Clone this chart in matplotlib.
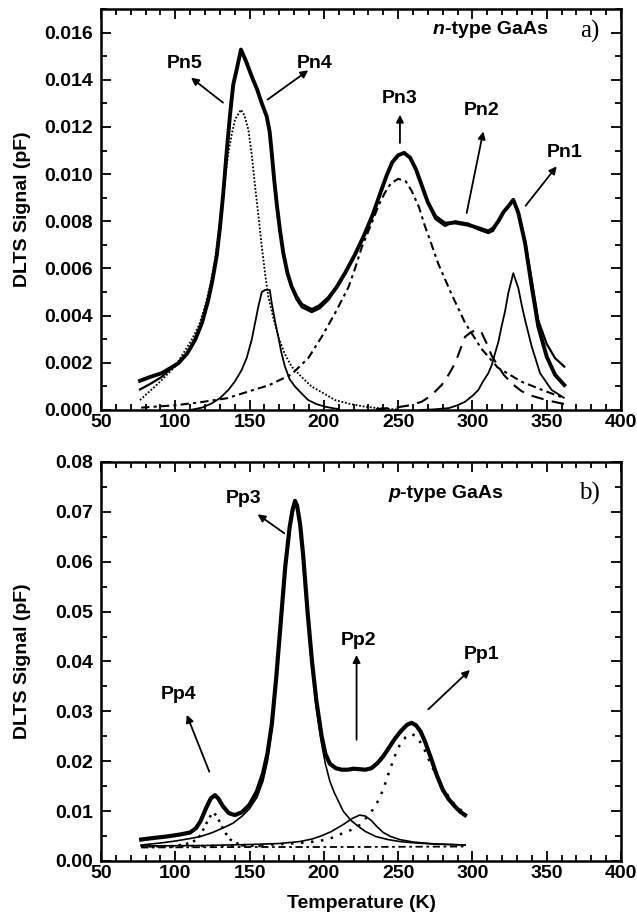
import matplotlib
matplotlib.use("Agg")
import matplotlib.pyplot as plt
from matplotlib.ticker import MultipleLocator, FormatStrFormatter

plt.rcParams['font.family'] = ['Liberation Sans', 'DejaVu Sans']

# ---------------- n-type GaAs (panel a) ----------------
n_data_T = [76.2, 83, 90.8, 96, 102, 108, 113.3, 118, 122.2, 125, 127.9, 130, 132.3, 134.5,
            136.8, 139, 141.3, 144.2, 147.5, 151.4, 155, 158.1, 161.5, 163.5, 164.9, 166.5,
            168.2, 170.5, 172.7, 175.5, 178.3, 181.5, 185, 191.8, 197, 203, 208.5, 214.2,
            221, 227, 233, 238, 242, 246, 250, 254, 258, 262, 266, 270, 275, 281.5, 288.3,
            297.2, 304, 310.7, 314, 317.4, 321, 324.1, 327.5, 330.9, 335.4, 339.9, 344.3,
            350, 355.6, 361.8]
n_data_V = [0.00124, 0.0014, 0.00156, 0.00175, 0.00198, 0.0024, 0.00297, 0.0037, 0.00467,
            0.0055, 0.00655, 0.0077, 0.0092, 0.0109, 0.0125, 0.0138, 0.01443, 0.01528,
            0.0148, 0.01415, 0.0136, 0.01302, 0.01245, 0.0118, 0.0109, 0.0098, 0.00877,
            0.0076, 0.00665, 0.0058, 0.00523, 0.0048, 0.00446, 0.00424, 0.0044, 0.00474,
            0.0052, 0.0058, 0.0066, 0.0074, 0.0083, 0.0092, 0.0099, 0.0105, 0.0108, 0.0109,
            0.0107, 0.0102, 0.0095, 0.0088, 0.0082, 0.0079, 0.00795, 0.00785, 0.00771,
            0.00757, 0.0077, 0.0080, 0.0084, 0.00863, 0.00891, 0.00835, 0.00708, 0.00523,
            0.00354, 0.00226, 0.00149, 0.00106]
n_fit_V = [0.00087, 0.0011, 0.0014, 0.0017, 0.00195, 0.0024, 0.00297, 0.0037, 0.00467,
           0.0055, 0.00655, 0.0077, 0.0092, 0.0109, 0.0125, 0.0138, 0.01443, 0.01525,
           0.0148, 0.01415, 0.0136, 0.01302, 0.01245, 0.0118, 0.0109, 0.0098, 0.00877,
           0.0076, 0.00665, 0.0058, 0.00523, 0.0047, 0.00436, 0.00415, 0.0043, 0.00466,
           0.0052, 0.0058, 0.0066, 0.0074, 0.0083, 0.0092, 0.0099, 0.0105, 0.0108, 0.0109,
           0.0107, 0.0102, 0.0095, 0.0088, 0.0081, 0.0078, 0.0080, 0.0079, 0.00765,
           0.0075, 0.0076, 0.0080, 0.0084, 0.00863, 0.00891, 0.0084, 0.0072, 0.0055,
           0.0038, 0.0028, 0.0022, 0.00184]

pn1_T = [265, 275, 284, 290, 295, 300, 304, 307, 310.7, 313, 315.2, 317.5, 319.6, 322,
         324.1, 327.5, 330.9, 333, 335.4, 339.9, 345.5, 353.3, 361.5]
pn1_V = [0.0, 0.00003, 0.00008, 0.0002, 0.00035, 0.0006, 0.00085, 0.0012, 0.00156, 0.0019,
         0.0024, 0.0029, 0.00354, 0.0042, 0.00495, 0.0058, 0.00516, 0.0045, 0.00382,
         0.00269, 0.00156, 0.00085, 0.00052]

pn2_T = [235, 250, 258, 265.8, 272, 279.3, 284, 288.3, 292, 295, 299, 302.9, 306, 309.5,
         313, 317.4, 321, 326.4, 333, 340, 351, 362]
pn2_V = [0.00003, 0.00012, 0.0002, 0.00035, 0.0006, 0.00106, 0.0015, 0.00198, 0.0026,
         0.0031, 0.0033, 0.0034, 0.0033, 0.00283, 0.0023, 0.00184, 0.0015, 0.00113, 0.0008,
         0.0006, 0.0004, 0.00025]

pn3_T = [77, 100, 117, 135, 150, 163, 178, 189.5, 198.5, 207.5, 216.5, 221, 225.5, 232, 237,
         241, 245, 250, 255, 259, 264, 268, 272, 277, 286, 295, 306, 317, 333, 349, 362]
pn3_V = [0.0001, 0.0002, 0.00033, 0.0005, 0.0008, 0.00105, 0.0015, 0.0022, 0.0031, 0.0041,
         0.0052, 0.0060, 0.0069, 0.0079, 0.0087, 0.0092, 0.0096, 0.0098, 0.0097, 0.0093,
         0.0086, 0.0078, 0.0071, 0.0062, 0.0049, 0.0037, 0.0026, 0.0018, 0.0012, 0.0008,
         0.0005]

pn4_T = [110, 118, 124.5, 130, 135.7, 140, 144.7, 148, 151.4, 155.9, 158.2, 160.4, 163.6,
         164.9, 167, 169.3, 171.5, 173.8, 177, 180.6, 185, 189.5, 195, 200.8, 210]
pn4_V = [0.0, 0.0001, 0.00028, 0.0005, 0.00085, 0.0012, 0.0017, 0.0022, 0.00297, 0.00439,
         0.0050, 0.00509, 0.00509, 0.00453, 0.0038, 0.00311, 0.0024, 0.00184, 0.0013,
         0.00099, 0.0007, 0.00042, 0.00025, 0.00014, 0.00003]

pn5_T = [76.2, 88.6, 99.8, 111, 116, 120, 123.5, 126.7, 129, 131.2, 133.5, 135.7, 138,
         140.2, 144.2, 146.5, 149.2, 151.5, 153.7, 156, 158.2, 160.4, 162.6, 166, 169.3,
         173.5, 178.3, 185, 191.8, 200, 207.5, 218, 227.7, 240, 250]
pn5_V = [0.00042, 0.00113, 0.00184, 0.00297, 0.0036, 0.00439, 0.0053, 0.00637, 0.0075,
         0.00863, 0.0098, 0.0109, 0.0117, 0.01231, 0.01273, 0.0125, 0.01188, 0.0108,
         0.00948, 0.0082, 0.00693, 0.0058, 0.00481, 0.0039, 0.00311, 0.0024, 0.00184,
         0.0014, 0.00099, 0.0007, 0.00042, 0.00025, 0.00014, 0.00006, 0.00002]

# ---------------- p-type GaAs (panel b) ----------------
p_data_T = [77, 85, 94, 103, 110, 114, 117, 121, 124, 126.7, 129, 132, 136, 140, 145, 150,
            155, 159, 162, 165, 168, 171, 174, 177, 179, 180.6, 182, 184, 186, 189, 192, 195,
            198.5, 201, 204, 208, 212, 216, 220, 224, 228, 232, 236, 240, 244, 248, 252,
            256, 259, 262, 265, 268, 272, 276, 280, 284, 288, 292, 295]
p_data_V = [0.0043, 0.0046, 0.0049, 0.0053, 0.0057, 0.0066, 0.0080, 0.0108, 0.0126, 0.0132,
            0.0125, 0.0110, 0.0096, 0.0092, 0.0098, 0.0113, 0.0140, 0.0175, 0.0215, 0.0275,
            0.0370, 0.0480, 0.0590, 0.0670, 0.0705, 0.0722, 0.0712, 0.0675, 0.0615, 0.0500,
            0.0400, 0.0320, 0.0250, 0.0215, 0.0195, 0.0186, 0.0183, 0.0183, 0.0185, 0.0184,
            0.0183, 0.0186, 0.0196, 0.0210, 0.0228, 0.0246, 0.0261, 0.0273, 0.0277, 0.0272,
            0.0260, 0.0240, 0.0207, 0.0172, 0.0143, 0.0124, 0.0110, 0.0098, 0.0092]

pp3_T = [77, 90, 100, 110, 117, 125, 132, 139, 145, 150, 155, 159, 162, 165, 168, 171, 174,
         177, 179, 180.6, 182, 184, 186, 189, 192, 195, 198.5, 201, 204, 207, 213, 218, 222,
         228, 235, 243, 251, 262, 274, 285, 295]
pp3_V = [0.0032, 0.0036, 0.0040, 0.0045, 0.0049, 0.0057, 0.0066, 0.0076, 0.0090, 0.0105,
         0.0128, 0.0160, 0.0200, 0.0265, 0.0360, 0.0470, 0.0585, 0.0665, 0.0700, 0.0718,
         0.0708, 0.0670, 0.0610, 0.0495, 0.0390, 0.0305, 0.0235, 0.0195, 0.0160, 0.0137,
         0.0100, 0.0082, 0.0072, 0.0059, 0.0049, 0.0043, 0.0039, 0.0036, 0.0034, 0.0033,
         0.0032]

pp2_T = [77, 120, 150, 170, 184, 192, 198, 205, 213, 219, 224, 228, 232, 236, 240, 245, 251,
         260, 275, 295]
pp2_V = [0.0030, 0.0031, 0.0033, 0.0035, 0.0039, 0.0044, 0.0050, 0.0059, 0.0073, 0.0085,
         0.0092, 0.0090, 0.0081, 0.0068, 0.0057, 0.0049, 0.0043, 0.0038, 0.0034, 0.0032]

pp1_T = [77, 120, 160, 184, 197, 205, 213, 219, 224, 229, 233, 237, 240, 244.5, 248, 251,
         255, 259, 263, 267, 270, 274, 280, 287, 294]
pp1_V = [0.0029, 0.0030, 0.0032, 0.0036, 0.0040, 0.0046, 0.0056, 0.0063, 0.0072, 0.0088,
         0.0103, 0.0123, 0.0144, 0.0184, 0.0212, 0.0232, 0.0248, 0.0255, 0.0248, 0.0228,
         0.0207, 0.0182, 0.0146, 0.0117, 0.0097]

pp4_T = [77, 100, 110, 114, 117, 121, 124, 125.6, 128, 131, 134, 137, 141, 146, 155, 160]
pp4_V = [0.0029, 0.0030, 0.0036, 0.0042, 0.0052, 0.0076, 0.0092, 0.0097, 0.0090, 0.0071,
         0.0055, 0.0043, 0.0036, 0.0032, 0.0030, 0.0030]

base_T = [77, 150, 220, 295]
base_V = [0.0027, 0.0028, 0.0028, 0.0029]

# annotations: label, text position, (arrow tail, arrow head)
n_labels = ["Pn5", "Pn4", "Pn3", "Pn2", "Pn1"]
n_text_xy = [(106.5, 0.0147), (194, 0.01470), (251.2, 0.0132), (306.2, 0.0127), (362.3, 0.01090)]
n_arrows = [((132.1, 0.01303), (110.6, 0.01409)), ((162.1, 0.01316), (189.5, 0.0144)),
            ((251.2, 0.01132), (251.2, 0.01252)), ((296.1, 0.00835), (307.3, 0.01181)),
            ((335.8, 0.00866), (356.7, 0.01033))]

p_labels = ["Pp4", "Pp3", "Pp2", "Pp1"]
p_text_xy = [(102, 0.0334), (145.8, 0.0727), (223.2, 0.0443), (306.2, 0.0414)]
p_arrows = [((122.9, 0.0179), (107.7, 0.0293)), ((173.4, 0.0657), (155.4, 0.0695)),
            ((222, 0.0243), (222, 0.0413)), ((270.3, 0.0304), (298.3, 0.0383))]

fig = plt.figure(figsize=(6.37, 9.17), dpi=100)
ax1 = fig.add_axes([0.1586, 0.5529, 0.8163, 0.4373])
ax2 = fig.add_axes([0.1586, 0.0611, 0.8163, 0.4351])

TICKFS = 14
LABFS = 14
ANNFS = 14


def style_axes(ax, ymax, ymaj, ymin, fmt):
    ax.set_xlim(50, 400)
    ax.set_ylim(0, ymax)
    ax.xaxis.set_major_locator(MultipleLocator(50))
    ax.xaxis.set_minor_locator(MultipleLocator(10))
    ax.yaxis.set_major_locator(MultipleLocator(ymaj))
    ax.yaxis.set_minor_locator(MultipleLocator(ymin))
    ax.yaxis.set_major_formatter(FormatStrFormatter(fmt))
    ax.tick_params(which='both', direction='in', top=True, right=True, width=1.3)
    ax.tick_params(which='major', length=7)
    ax.tick_params(which='minor', length=4)
    ax.tick_params(axis='y', pad=6)
    ax.tick_params(axis='x', pad=3)
    for lab in ax.get_xticklabels() + ax.get_yticklabels():
        lab.set_fontsize(TICKFS)
        lab.set_fontweight('bold')
    for sp in ax.spines.values():
        sp.set_linewidth(1.8)
    ax.set_ylabel("DLTS Signal (pF)", fontsize=LABFS, fontweight='bold')
    ax.yaxis.set_label_coords(-0.135, 0.5)


# panel a
ax1.plot(pn5_T, pn5_V, color='k', lw=1.3, ls=(0, (1, 1)))
ax1.plot(pn4_T, pn4_V, color='k', lw=1.3, ls='-')
ax1.plot(pn3_T, pn3_V, color='k', lw=1.5, ls=(0, (4, 2, 1.5, 2)))
ax1.plot(pn2_T, pn2_V, color='k', lw=1.5, ls=(0, (6, 4)))
ax1.plot(pn1_T, pn1_V, color='k', lw=1.3, ls='-')
ax1.plot(n_data_T, n_fit_V, color='k', lw=1.6, ls='-')
ax1.plot(n_data_T, n_data_V, color='k', lw=2.8, ls='-')
style_axes(ax1, 0.017, 0.002, 0.001, '%.3f')

for lab, (tx, ty), (tail, head) in zip(n_labels, n_text_xy, n_arrows):
    ax1.text(tx, ty, lab, fontsize=ANNFS, fontweight='bold', ha='center', va='center')
    ax1.annotate('', xy=head, xytext=tail,
                 arrowprops=dict(arrowstyle='-|>', lw=1.3, color='k', mutation_scale=11,
                                 shrinkA=0, shrinkB=0))

ax1.text(281.5, 0.01592, "n", fontsize=14, fontweight='bold', fontstyle='italic',
         ha='right', va='baseline')
ax1.text(281.5, 0.01592, "-type GaAs", fontsize=14, fontweight='bold',
         ha='left', va='baseline')
ax1.text(379, 0.01577, "a)", fontsize=18, family='Liberation Serif', ha='center',
         va='baseline')

# panel b
ax2.plot(base_T, base_V, color='k', lw=1.3, ls=(0, (4, 2, 1.5, 2)))
ax2.plot(pp4_T, pp4_V, color='k', lw=1.8, ls=(0, (1, 2)))
ax2.plot(pp1_T, pp1_V, color='k', lw=1.8, ls=(0, (1, 3)))
ax2.plot(pp2_T, pp2_V, color='k', lw=1.2, ls='-')
ax2.plot(pp3_T, pp3_V, color='k', lw=1.2, ls='-')
ax2.plot(p_data_T, p_data_V, color='k', lw=3.0, ls='-')
style_axes(ax2, 0.08, 0.01, 0.005, '%.2f')
ax2.set_xlabel("Temperature (K)", fontsize=LABFS, fontweight='bold')
ax2.xaxis.set_label_coords(0.5, -0.085)

for lab, (tx, ty), (tail, head) in zip(p_labels, p_text_xy, p_arrows):
    ax2.text(tx, ty, lab, fontsize=ANNFS, fontweight='bold', ha='center', va='center')
    ax2.annotate('', xy=head, xytext=tail,
                 arrowprops=dict(arrowstyle='-|>', lw=1.3, color='k', mutation_scale=11,
                                 shrinkA=0, shrinkB=0))

ax2.text(251.2, 0.0727, "p", fontsize=14, fontweight='bold', fontstyle='italic',
         ha='right', va='baseline')
ax2.text(251.2, 0.0727, "-type GaAs", fontsize=14, fontweight='bold',
         ha='left', va='baseline')
ax2.text(379, 0.0724, "b)", fontsize=18, family='Liberation Serif', ha='center',
         va='baseline')

fig.savefig("out.png", dpi=100)
